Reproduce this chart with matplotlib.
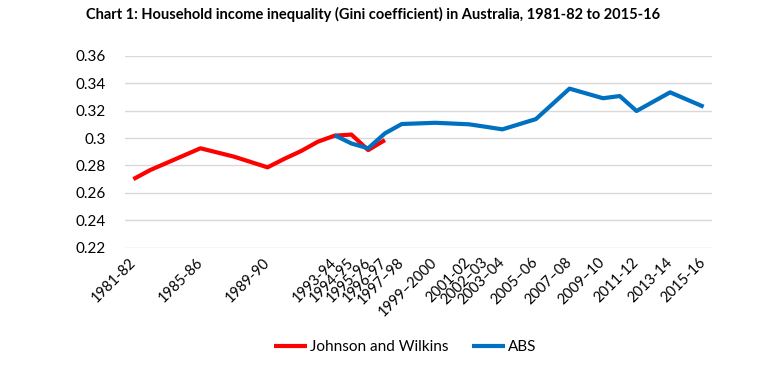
import matplotlib
matplotlib.use("Agg")
import matplotlib.pyplot as plt

# Data
jw_years = [1981, 1982, 1985, 1987, 1989, 1990, 1991, 1992, 1993, 1994, 1995, 1996]
jw_values = [0.270, 0.2766, 0.2925, 0.2864, 0.2786, 0.2848, 0.2905, 0.2973, 0.3017, 0.3025, 0.2912, 0.2985]

abs_years = [1993, 1994, 1995, 1996, 1997, 1999, 2001, 2002, 2003, 2005, 2007, 2009, 2010, 2011, 2013, 2015]
abs_values = [0.302, 0.296, 0.2925, 0.3034, 0.3102, 0.3111, 0.3100, 0.3082, 0.3063, 0.3138, 0.3360, 0.3290, 0.3306, 0.3197, 0.3333, 0.3228]

tick_years = [1981, 1985, 1989, 1993, 1994, 1995, 1996, 1997, 1999, 2001, 2002, 2003,
              2005, 2007, 2009, 2011, 2013, 2015]
tick_labels = ["1981-82", "1985-86", "1989-90", "1993-94", "1994-95", "1995-96", "1996-97",
               "1997\u201398", "1999\u20132000", "2001-02", "2002\u201303", "2003\u201304",
               "2005\u201306", "2007\u201308", "2009\u201310", "2011-12", "2013-14", "2015-16"]
y_ticks = [0.22, 0.24, 0.26, 0.28, 0.30, 0.32, 0.34, 0.36]
y_tick_labels = ["0.22", "0.24", "0.26", "0.28", "0.3", "0.32", "0.34", "0.36"]

plt.rcParams['font.family'] = ['Lato', 'DejaVu Sans']

fig = plt.figure(figsize=(7.63, 3.74), dpi=100)
ax = fig.add_axes([0.1638, 0.3377, 0.7694, 0.5133])

ax.plot(jw_years, jw_values, color='#FF0000', lw=3, solid_capstyle='butt', label='Johnson and Wilkins', zorder=3)
ax.plot(abs_years, abs_values, color='#0070C0', lw=3, solid_capstyle='butt', label='ABS', zorder=3)

ax.set_xlim(1980.5, 2015.5)
ax.set_ylim(0.22, 0.36)
ax.set_yticks(y_ticks)
ax.set_yticklabels(y_tick_labels, fontsize=11)
ax.set_xticks(tick_years)
ax.set_xticklabels(tick_labels, fontsize=10.5, rotation=45, ha='right', va='center',
                   rotation_mode='anchor')
ax.tick_params(axis='x', length=0, pad=9)
ax.tick_params(axis='y', length=0, pad=14)
ax.grid(axis='y', color='#D9D9D9', lw=1)
ax.set_axisbelow(True)
for s in ax.spines.values():
    s.set_visible(False)

fig.text(0.489, 0.96, "Chart 1: Household income inequality (Gini coefficient) in Australia, 1981-82 to 2015-16",
         ha='center', va='center', fontsize=10.5, fontweight='bold')

leg = fig.legend(loc='center', bbox_to_anchor=(0.531, 0.072), ncol=2, frameon=False,
                 fontsize=11, handlelength=2.2, handletextpad=0.2, columnspacing=1.5)

fig.savefig("out.png", dpi=100)
